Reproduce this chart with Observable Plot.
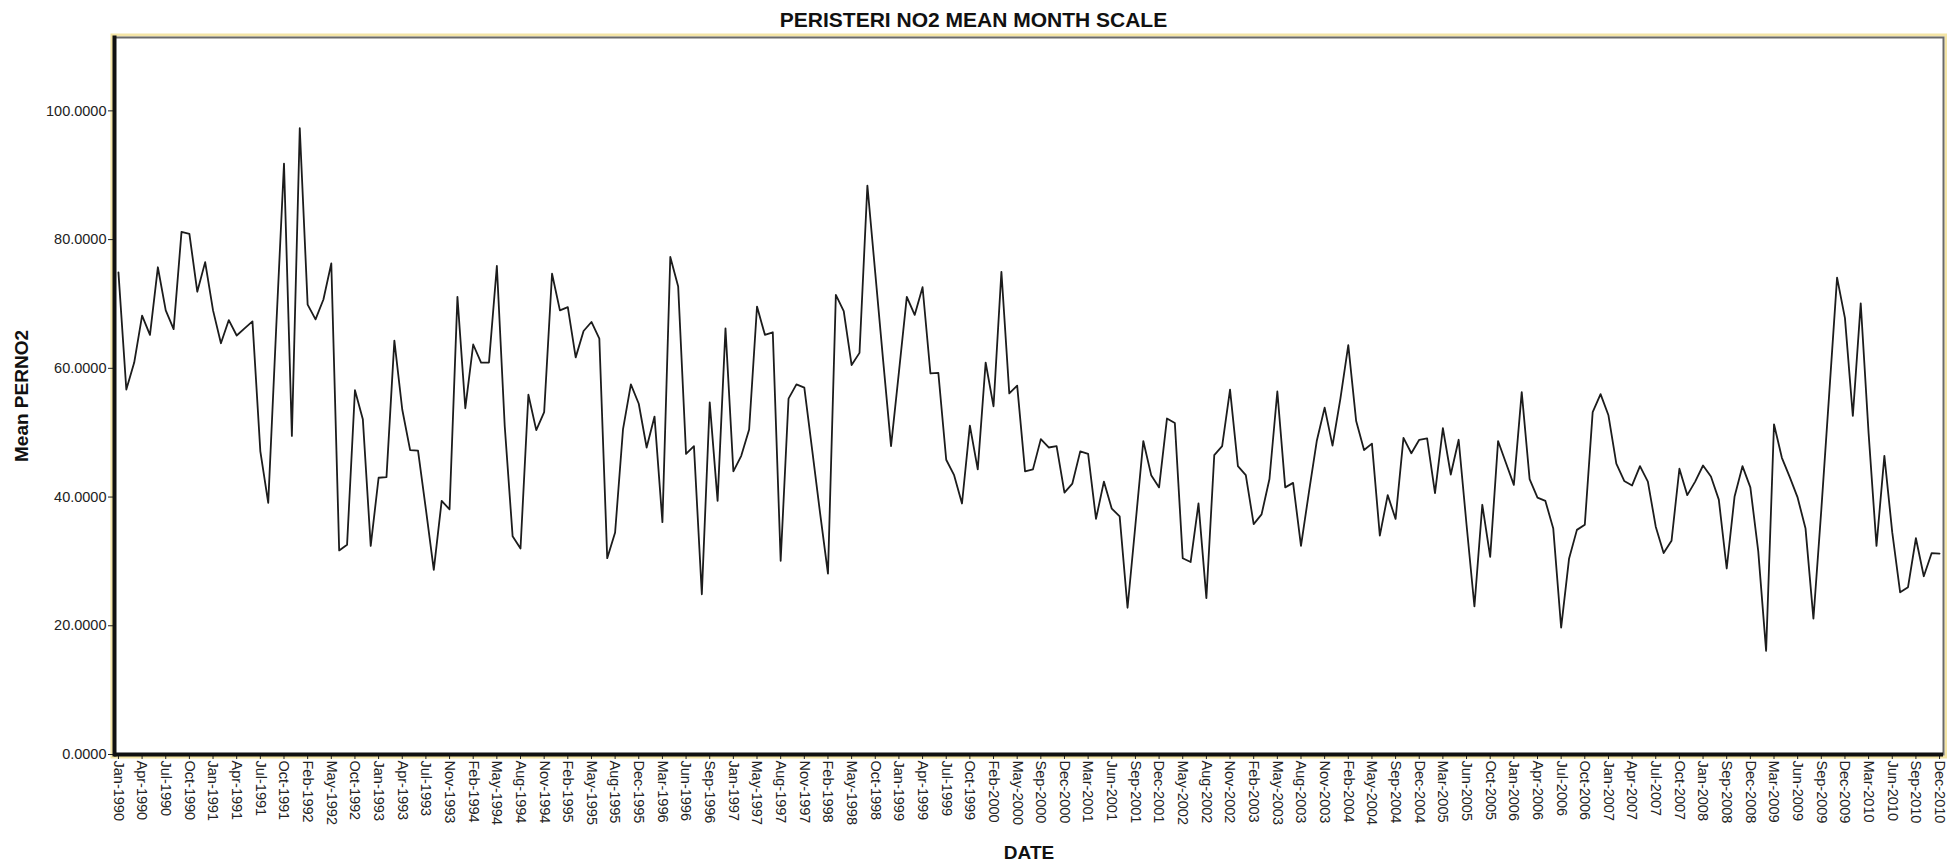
<!DOCTYPE html>
<html><head><meta charset="utf-8">
<script src="https://cdn.jsdelivr.net/npm/d3@7"></script>
<script src="https://cdn.jsdelivr.net/npm/@observablehq/plot@0.6"></script>
<style>
body{margin:0;background:#fff;font-family:"Liberation Sans",Arial,sans-serif;}
#title{height:30px;text-align:center;font-weight:bold;font-size:21px;line-height:40px;color:#111;}
#chart svg g[aria-label="x-axis label"] text,#chart svg g[aria-label="y-axis label"] text{font-size:19px;font-weight:bold;fill:#111;}
</style></head><body>
<div id="title">PERISTERI NO2 MEAN MONTH SCALE</div>
<div id="chart"></div>
<script>
const monthNames = ["Jan","Feb","Mar","Apr","May","Jun","Jul","Aug","Sep","Oct","Nov","Dec"];
const years = [1990,1991,1992,1993,1994,1995,1996,1997,1998,1999,2000,2001,2002,2003,2004,2005,2006,2007,2008,2009,2010];
// months absent from the series (the category axis skips them)
const missingMonths = ["Dec-1991","Jul-1992","Aug-1992","Aug-1993","Oct-1995","Nov-1996","Mar-1997",
  "Jul-1998","Aug-1998","Dec-1999","Jul-2000","Feb-2002","Mar-2002","Jul-2004","Aug-2005",
  "Mar-2008","Apr-2008","May-2008","Jun-2008","Jul-2008"];
const dates = [];
for (const y of years) for (const m of monthNames) {
  const lab = m + "-" + y;
  if (!missingMonths.includes(lab)) dates.push(lab);
}
const values = [
  74.9,56.7,60.9,68.2,65.2,75.7,69.0,66.1,81.2,80.9,71.9,76.5,          // 1990
  69.0,63.9,67.5,65.1,66.2,67.3,47.1,39.1,66.0,91.8,49.5,               // 1991
  97.3,69.9,67.6,70.7,76.3,31.7,32.6,56.6,52.1,32.4,                    // 1992
  43.0,43.1,64.3,53.6,47.3,47.2,38.1,28.7,39.4,38.1,71.1,               // 1993
  53.8,63.7,60.9,60.9,75.9,51.0,33.9,32.0,55.9,50.4,53.2,74.7,          // 1994
  69.0,69.5,61.7,65.8,67.2,64.6,30.5,34.5,50.5,57.5,54.5,               // 1995
  47.7,52.5,36.1,77.3,72.7,46.7,47.9,24.9,54.7,39.4,66.2,               // 1996
  44.0,46.4,50.5,69.6,65.2,65.6,30.1,55.3,57.5,57.0,47.3,               // 1997
  37.5,28.1,71.4,68.9,60.5,62.4,88.4,74.8,61.2,47.9,                    // 1998
  59.4,71.1,68.3,72.6,59.2,59.3,45.8,43.4,39.0,51.1,44.3,               // 1999
  60.9,54.1,75.0,56.1,57.3,44.0,44.3,49.0,47.7,47.9,40.7,               // 2000
  42.1,47.1,46.7,36.6,42.4,38.2,37.0,22.8,35.7,48.7,43.4,41.5,          // 2001
  52.2,51.5,30.5,29.9,39.0,24.3,46.5,47.9,56.7,44.8,                    // 2002
  43.4,35.8,37.3,42.8,56.4,41.5,42.2,32.4,40.7,48.7,53.9,48.0,          // 2003
  55.3,63.6,51.8,47.3,48.3,34.0,40.3,36.6,49.2,46.8,48.9,               // 2004
  49.1,40.6,50.7,43.5,48.9,35.7,23.0,38.8,30.7,48.7,45.3,               // 2005
  41.9,56.3,42.8,39.9,39.4,35.1,19.7,30.4,34.9,35.7,53.2,56.0,          // 2006
  52.7,45.2,42.5,41.8,44.8,42.4,35.4,31.3,33.2,44.4,40.3,42.4,          // 2007
  44.9,43.2,39.6,28.9,40.1,44.8,41.5,                                   // 2008
  31.6,16.1,51.3,46.1,43.1,39.9,35.1,21.1,38.0,56.0,74.1,67.8,          // 2009
  52.6,70.1,49.9,32.4,46.4,34.5,25.2,26.0,33.6,27.7,31.3,31.2           // 2010
];
const tickLabels = ["Jan-1990","Apr-1990","Jul-1990","Oct-1990","Jan-1991","Apr-1991","Jul-1991","Oct-1991",
  "Feb-1992","May-1992","Oct-1992","Jan-1993","Apr-1993","Jul-1993","Nov-1993","Feb-1994","May-1994","Aug-1994",
  "Nov-1994","Feb-1995","May-1995","Aug-1995","Dec-1995","Mar-1996","Jun-1996","Sep-1996","Jan-1997","May-1997",
  "Aug-1997","Nov-1997","Feb-1998","May-1998","Oct-1998","Jan-1999","Apr-1999","Jul-1999","Oct-1999","Feb-2000",
  "May-2000","Sep-2000","Dec-2000","Mar-2001","Jun-2001","Sep-2001","Dec-2001","May-2002","Aug-2002","Nov-2002",
  "Feb-2003","May-2003","Aug-2003","Nov-2003","Feb-2004","May-2004","Sep-2004","Dec-2004","Mar-2005","Jun-2005",
  "Oct-2005","Jan-2006","Apr-2006","Jul-2006","Oct-2006","Jan-2007","Apr-2007","Jul-2007","Oct-2007","Jan-2008",
  "Sep-2008","Dec-2008","Mar-2009","Jun-2009","Sep-2009","Dec-2009","Mar-2010","Jun-2010","Sep-2010","Dec-2010"];
const yTicks = [0,20,40,60,80,100];

const data = dates.map((d, i) => ({date: d, value: values[i]}));

const chart = Plot.plot({
  width: 1947, height: 831,
  marginTop: 7, marginLeft: 114, marginRight: 4, marginBottom: 107,
  style: {fontFamily: '"Liberation Sans", Arial, sans-serif', fontSize: "14.5px", color: "#222", background: "#fff", overflow: "visible"},
  x: {type: "point", domain: dates, padding: 0.5},
  y: {domain: [0, 111.4]},
  marks: [
    Plot.frame({stroke: "#f4e5a6", strokeWidth: 3, inset: -2.5}),
    Plot.frame({stroke: "#6a6a6a", strokeWidth: 2}),
    Plot.axisX({ticks: tickLabels, tickRotate: 90, tickSize: 5, tickPadding: 1, fontSize: 14.5,
      label: "DATE", labelAnchor: "center", labelArrow: "none"}),
    Plot.axisY({ticks: yTicks, tickFormat: d3.format(".4f"), tickSize: 6, tickPadding: 2, fontSize: 14.5,
      label: "Mean PERNO2", labelAnchor: "center", labelOffset: 100, labelArrow: "none"}),
    Plot.line(data, {x: "date", y: "value", stroke: "#1c1c1c", strokeWidth: 1.8}),
    Plot.ruleY([0], {stroke: "#111", strokeWidth: 4}),
    Plot.frame({anchor: "left", stroke: "#111", strokeWidth: 4})
  ]
});
document.getElementById("chart").appendChild(chart);
</script>
</body></html>
